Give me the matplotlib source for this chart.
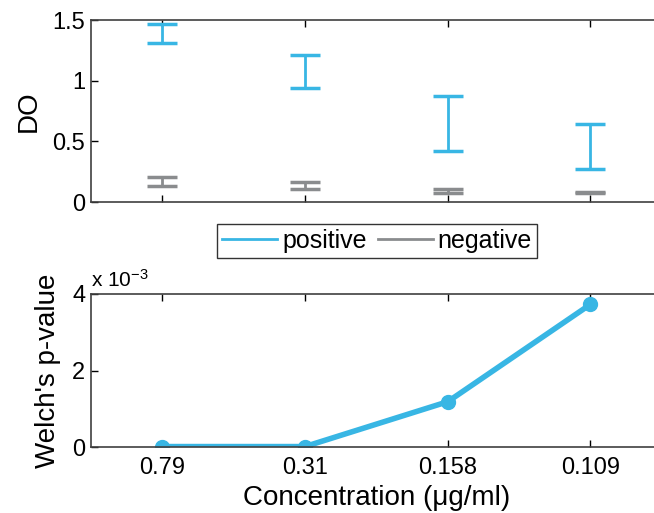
import matplotlib
matplotlib.use("Agg")
import matplotlib.pyplot as plt
from matplotlib.ticker import FuncFormatter
from matplotlib.lines import Line2D

plt.rcParams['font.family'] = ['Liberation Sans', 'DejaVu Sans']
plt.rcParams['mathtext.fontset'] = 'custom'
plt.rcParams['mathtext.rm'] = 'Liberation Sans'
plt.rcParams['mathtext.it'] = 'Liberation Sans'

conc_labels = ['0.79', '0.31', '0.158', '0.109']
pos_low = [1.31, 0.94, 0.42, 0.27]
pos_high = [1.47, 1.21, 0.87, 0.64]
neg_low = [0.13, 0.107, 0.072, 0.072]
neg_high = [0.21, 0.168, 0.105, 0.085]
pvalues = [0.00002, 0.00002, 0.00119, 0.00373]

blue = '#38b6e4'
gray = '#8a8c8e'

x = list(range(1, len(conc_labels) + 1))

fig = plt.figure(figsize=(6.54, 5.13), dpi=100)
ax1 = fig.add_axes([0.139, 0.606, 0.873, 0.355])
ax2 = fig.add_axes([0.139, 0.128, 0.873, 0.299])

def draw_bars(ax, lo, hi, color, label):
    mid = [(a + b) / 2 for a, b in zip(lo, hi)]
    half = [(b - a) / 2 for a, b in zip(lo, hi)]
    ax.errorbar(x, mid, yerr=half, fmt='none', ecolor=color, elinewidth=2,
                capsize=10.5, capthick=2.5, label=label)

draw_bars(ax1, pos_low, pos_high, blue, 'positive')
draw_bars(ax1, neg_low, neg_high, gray, 'negative')
ax1.set_xlim(0.5, 4.5)
ax1.set_ylim(0, 1.5)
ax1.set_xticks(x)
ax1.set_xticklabels([])
ax1.set_yticks([0, 0.5, 1, 1.5])
ax1.set_yticklabels(['0', '0.5', '1', '1.5'])
ax1.set_ylabel('DO', fontsize=20, labelpad=8)

ax2.plot(x, pvalues, color=blue, lw=4, marker='o', ms=10)
ax2.set_xlim(0.5, 4.5)
ax2.set_ylim(0, 0.004)
ax2.set_xticks(x)
ax2.set_xticklabels(conc_labels)
ax2.set_yticks([0, 0.002, 0.004])
ax2.yaxis.set_major_formatter(FuncFormatter(lambda v, p: '%g' % round(v * 1000, 6)))
ax2.set_ylabel("Welch's p-value", fontsize=20, labelpad=8)
ax2.set_xlabel('Concentration (\u03bcg/ml)', fontsize=20, labelpad=4)
ax2.text(0.0, 1.045, 'x 10$^{-3}$', transform=ax2.transAxes, fontsize=15,
         ha='left', va='baseline')

for ax in (ax1, ax2):
    for s in ax.spines.values():
        s.set_color('#404040')
        s.set_linewidth(1.2)
    ax.tick_params(direction='in', length=5, width=1, top=True, right=True,
                   labelsize=17, colors='black', pad=4)
ax2.tick_params(axis='x', pad=7)

handles = [Line2D([], [], color=blue, lw=2), Line2D([], [], color=gray, lw=2)]
leg = fig.legend(handles, ['positive', 'negative'], loc='center',
                 bbox_to_anchor=(0.5765, 0.530), ncol=2,
                 fontsize=18, frameon=True, fancybox=False, edgecolor='black',
                 handlelength=2.2, columnspacing=0.45, handletextpad=0.2,
                 borderpad=0.2, borderaxespad=0)
leg.get_frame().set_linewidth(1.0)

fig.savefig('out.png', dpi=100)
